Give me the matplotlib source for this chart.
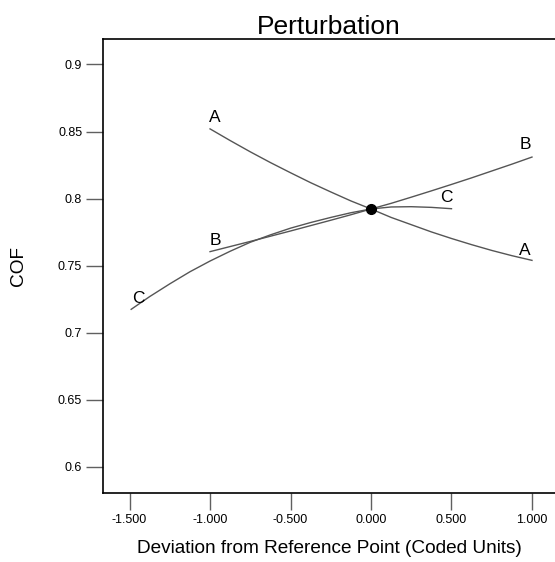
import numpy as np
import matplotlib
matplotlib.use('Agg')
import matplotlib.pyplot as plt

plt.rcParams['font.family'] = ['Liberation Sans', 'DejaVu Sans']

# values
x_ab = [-1.0, -0.875, -0.75, -0.625, -0.5, -0.375, -0.25, -0.125, 0.0,
        0.125, 0.25, 0.375, 0.5, 0.625, 0.75, 0.875, 1.0]
cof_A = [0.852, 0.8433, 0.8349, 0.8269, 0.8193, 0.8119, 0.8050, 0.7983, 0.7923,
         0.7860, 0.7806, 0.7752, 0.7703, 0.7657, 0.7614, 0.7575, 0.754]
cof_B = [0.7605, 0.7643, 0.7681, 0.7720, 0.7759, 0.7799, 0.7839, 0.7880, 0.7923,
         0.7965, 0.8011, 0.8058, 0.8106, 0.8155, 0.8206, 0.8257, 0.831]
x_c = [-1.49, -1.375, -1.25, -1.125, -1.0, -0.875, -0.75, -0.625, -0.5,
       -0.375, -0.25, -0.125, 0.0, 0.125, 0.25, 0.375, 0.5]
cof_C = [0.7175, 0.7270, 0.7365, 0.7455, 0.7535, 0.7608, 0.7675, 0.7730, 0.7780,
         0.7822, 0.7860, 0.7895, 0.7923, 0.7938, 0.7940, 0.7935, 0.7925]
ref_x, ref_y = 0.0, 0.7923

xticks = [-1.5, -1.0, -0.5, 0.0, 0.5, 1.0]
yticks = [0.6, 0.65, 0.7, 0.75, 0.8, 0.85, 0.9]
ytick_labels = ['0.6', '0.65', '0.7', '0.75', '0.8', '0.85', '0.9']

fig = plt.figure(figsize=(5.55, 5.62), dpi=100)
ax = fig.add_axes([0.1856, 0.1228, 0.8144, 0.8078])

line_col = '#555555'
ax.plot(x_ab, cof_A, color=line_col, lw=1)
ax.plot(x_ab, cof_B, color=line_col, lw=1)
ax.plot(x_c, cof_C, color=line_col, lw=1)
ax.plot(ref_x, ref_y, 'o', color='black', ms=7)

# curve labels
lab = dict(fontsize=12.5, ha='center', va='center', color='black')
ax.text(-0.969, 0.8604, 'A', **lab)
ax.text(0.957, 0.7616, 'A', **lab)
ax.text(-0.969, 0.769, 'B', **lab)
ax.text(0.957, 0.840, 'B', **lab)
ax.text(-1.447, 0.7257, 'C', **lab)
ax.text(0.466, 0.8005, 'C', **lab)

ax.set_xlim(-1.665, 1.143)
ax.set_ylim(0.5806, 0.919)
ax.set_xticks(xticks)
ax.set_xticklabels(['%.3f' % v for v in xticks])
ax.set_yticks(yticks)
ax.set_yticklabels(ytick_labels)
ax.tick_params(direction='out', length=12, width=1, color='#606060',
               labelsize=9, pad=3)
ax.spines['right'].set_visible(False)
for s in ['left', 'top', 'bottom']:
    ax.spines[s].set_linewidth(1.2)

ax.set_title('Perturbation', fontsize=19, pad=3)
ax.set_xlabel('Deviation from Reference Point (Coded Units)', fontsize=13.7, labelpad=10)
ax.set_ylabel('COF', fontsize=13.7, labelpad=22)

fig.savefig('out.png', dpi=100)
